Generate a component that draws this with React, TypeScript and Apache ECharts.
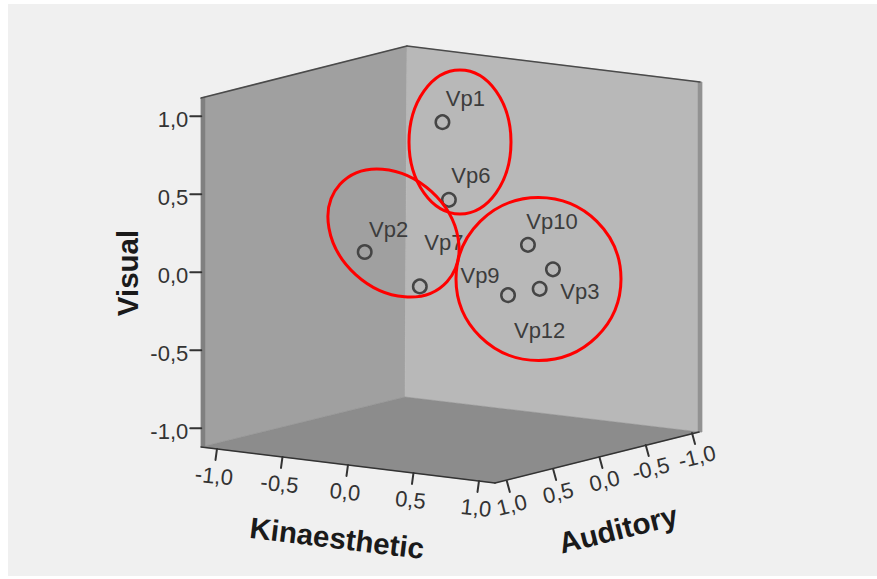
import React, { useEffect, useRef } from "react";
import * as echarts from "echarts";

const participants = ["Vp1", "Vp6", "Vp10", "Vp3", "Vp12", "Vp9", "Vp7", "Vp2"];
const kinaesthetic = [0.0, 0.12, 0.37, 0.49, 0.53, 0.43, 0.11, -0.24];
const auditory = [0.1, 0.2, -0.3, -0.4, -0.2, 0.0, 0.5, 0.6];
const visual = [0.92, 0.45, 0.11, -0.05, -0.14, -0.16, -0.06, 0.14];

const tickValues = [-1, -0.5, 0, 0.5, 1];
const tickLabels = ["-1,0", "-0,5", "0,0", "0,5", "1,0"];

// Screen offset of each participant's label from its marker.
const labelOffsets: number[][] = [
  [23, -24], [22, -24], [24, -23], [27, 22], [0, 42], [-28, -20], [24, -44], [24, -23],
];

// Oblique 3D view of the cube: pixels per unit along each data axis.
const RANGE = 1.12;
const project = (k: number, a: number, v: number): number[] => [
  451.7 + 131 * k - 92.6 * a,
  263.3 + 16 * k + 24 * a - 156 * v,
];

const FONT = "'Liberation Sans', Arial, sans-serif";
const INK = "#333333";

function text(t: string, x: number, y: number, deg: number, size: number, weight: string, align = "center", fill = INK) {
  return {
    type: "text", x, y, rotation: (deg * Math.PI) / 180, z: 5,
    style: {
      text: t, x: 0, y: 0, fill, fontSize: size, fontWeight: weight, fontFamily: FONT,
      align, verticalAlign: "middle", textAlign: align, textVerticalAlign: "middle",
    },
  };
}
function poly(points: number[][], fill: string) {
  return { type: "polygon", z: 0, shape: { points }, style: { fill, stroke: fill, lineWidth: 0.5 } };
}
function line(p: number[], q: number[], stroke: string, lineWidth: number) {
  return {
    type: "line", z: 1,
    shape: { x1: p[0], y1: p[1], x2: q[0], y2: q[1] },
    style: { stroke, lineWidth, lineCap: "round" },
  };
}
function ring(x: number, y: number, rx: number, ry: number, rotation = 0) {
  return {
    type: "ellipse", x, y, rotation, z: 10,
    shape: { cx: 0, cy: 0, rx, ry },
    style: { fill: "none", stroke: "#ff0000", lineWidth: 3 },
  };
}

function buildGraphics() {
  const els: any[] = [
    { type: "rect", z: -1, shape: { x: 8, y: 4, width: 869, height: 572 }, style: { fill: "#f0f0f0" } },
    poly([[201, 98], [407, 46], [405, 397], [201, 447]], "#a0a0a0"),
    poly([[407, 46], [702, 82], [702, 432], [405, 397]], "#b8b8b8"),
    poly([[201, 447], [405, 397], [700, 432], [495, 483]], "#8c8c8c"),
    poly([[201, 98], [205, 97], [205, 446], [201, 447]], "#808080"),
    poly([[698, 82], [702, 82], [702, 432], [698, 432]], "#929292"),
    line([201, 98], [407, 46], "#4a4a4a", 1.5),
    line([407, 46], [700, 82], "#4a4a4a", 1.5),
    line([201, 447], [495, 483], "#333333", 1.5),
    line([495, 483], [699, 432], "#333333", 1.5),
  ];
  tickValues.forEach((t, i) => {
    const vb = project(-RANGE, RANGE, t);
    els.push(line([vb[0] - 11, vb[1]], vb, INK, 2));
    els.push(text(tickLabels[i], vb[0] - 13, vb[1] + 3, 0, 22, "normal", "right"));

    const kb = project(t, RANGE, -RANGE);
    els.push(line(kb, [kb[0] - 1.5, kb[1] + 11], INK, 2));
    els.push(text(tickLabels[i], kb[0] - 3, kb[1] + 27, -6, 22, "normal"));

    const ab = project(RANGE, t, -RANGE);
    els.push(line([ab[0] + 1, ab[1] + 1], [ab[0] + 4, ab[1] + 12], INK, 2));
    els.push(text(tickLabels[i], ab[0] + 6, ab[1] + 25, 14, 22, "normal"));
  });
  els.push(text("Visual", 127, 273, 90, 29.5, "bold", "center", "#1a1a1a"));
  els.push(text("Kinaesthetic", 337, 538, -7, 29.5, "bold", "center", "#1a1a1a"));
  els.push(text("Auditory", 618, 529, 14, 29.5, "bold", "center", "#1a1a1a"));
  els.push(ring(460, 142, 51, 72));
  els.push(ring(393.5, 233, 72.3, 56.2, -0.738));
  els.push(ring(538.5, 279, 82.5, 81.5));
  return els;
}

export default function App() {
  const ref = useRef<HTMLDivElement>(null);
  useEffect(() => {
    const chart = echarts.init(ref.current!, undefined, { renderer: "svg" });
    chart.setOption({
      animation: false,
      backgroundColor: "#ffffff",
      grid: { left: 0, right: 0, top: 0, bottom: 0 },
      xAxis: { type: "value", min: 0, max: 877, show: false },
      yAxis: { type: "value", min: 0, max: 579, inverse: true, show: false },
      graphic: { elements: buildGraphics() },
      series: [
        {
          type: "scatter",
          z: 3,
          symbol: "circle",
          symbolSize: 13.5,
          itemStyle: { color: "transparent", borderColor: "#454545", borderWidth: 2.5, opacity: 1 },
          data: participants.map((name, i) => ({
            name,
            value: project(kinaesthetic[i], auditory[i], visual[i]),
            label: {
              show: true,
              formatter: name,
              position: "inside",
              offset: labelOffsets[i],
              fontFamily: FONT,
              fontSize: 22,
              color: "#3c3c3c",
            },
          })),
        },
      ],
    });
    return () => chart.dispose();
  }, []);
  return <div ref={ref} style={{ position: "absolute", left: 0, top: 0, width: 877, height: 579 }} />;
}
